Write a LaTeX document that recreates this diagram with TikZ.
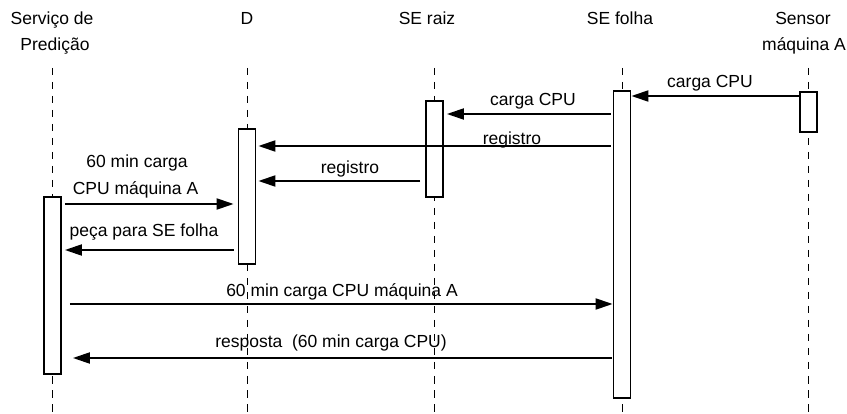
\documentclass[tikz,border=0pt]{standalone}
\usepackage{fontspec}
\setmainfont{Liberation Sans}
\usetikzlibrary{arrows.meta}
\begin{document}
\begin{tikzpicture}[x=1pt,y=-1pt,
  txt/.style={anchor=base,inner sep=0pt,font=\fontsize{17.5}{21}\selectfont},
  life/.style={line width=0.9pt,dash pattern=on 7.5pt off 6.5pt},
  act/.style={draw,fill=white,line width=1.8pt,inner sep=0pt,minimum width=17pt,anchor=north},
  msg/.style={line width=2pt,-{Triangle[length=17pt,width=11pt]}}]
\useasboundingbox (0,0) rectangle (847,414);
% headers
\node[txt] (h1a) at (52,25) {Serviço de};
\node[txt] (h1b) at (55,51) {Predição};
\node[txt] (h2) at (247,25) {D};
\node[txt] (h3) at (427,25) {SE raiz};
\node[txt] (h4) at (620,25) {SE folha};
\node[txt] (h5a) at (803,25) {Sensor};
\node[txt] (h5b) at (804,51) {máquina A};
% lifelines
\foreach \n/\x in {l1/52,l2/247,l3/434,l4/622,l5/808}{
  \coordinate (\n t) at (\x,68);
  \coordinate (\n b) at (\x,414);
  \draw[life] (\n t) -- (\n b);
}
% activation boxes
\node[act,minimum height=177pt] (srv) at (52.5,196) {};
\node[act,minimum height=135pt] (d) at (247,128) {};
\node[act,minimum height=96pt] (raiz) at (434.5,100) {};
\node[act,minimum height=307pt] (fol) at (622,90) {};
\node[act,minimum height=40pt] (sen) at (808.5,91) {};
% message levels
\coordinate (m1) at (0,96);
\coordinate (m2) at (0,114);
\coordinate (m3) at (0,146);
\coordinate (m4) at (0,181);
\coordinate (m5) at (0,204);
\coordinate (m6) at (0,250);
\coordinate (m7) at (0,304);
\coordinate (m8) at (0,358);
% messages
\draw[msg] (sen.west |- m1) -- (fol.east |- m1);
\draw[msg,shorten <=2pt,shorten >=3pt] (fol.west |- m2) -- (raiz.east |- m2);
\draw[msg,shorten <=2pt,shorten >=2pt] (fol.west |- m3) -- (d.east |- m3);
\draw[msg,shorten <=5pt,shorten >=2pt] (raiz.west |- m4) -- (d.east |- m4);
\draw[msg,shorten <=3pt,shorten >=4pt] (srv.east |- m5) -- (d.west |- m5);
\draw[msg,shorten <=4pt,shorten >=3pt] (d.west |- m6) -- (srv.east |- m6);
\draw[msg,shorten <=8pt] (srv.east |- m7) -- (fol.west |- m7);
\draw[msg,shorten <=1pt,shorten >=11pt] (fol.west |- m8) -- (srv.east |- m8);
% labels
\node[txt] (t1) at (710,88) {carga CPU};
\node[txt] (t2) at (533,106) {carga CPU};
\node[txt] (t3) at (512,145) {registro};
\node[txt] (t4) at (350,174) {registro};
\node[txt] (t5a) at (137,168) {60 min carga};
\node[txt] (t5b) at (135.5,195) {CPU máquina A};
\node[txt] (t6) at (144,237) {peça para SE folha};
\node[txt] (t7) at (342,297) {60 min carga CPU máquina A};
\node[txt] (t8) at (331,348) {resposta\ \ (60 min carga CPU)};
\end{tikzpicture}
\end{document}
